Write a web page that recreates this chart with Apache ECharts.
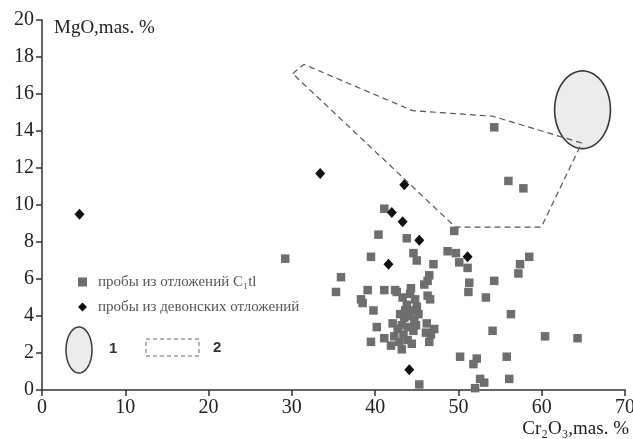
<!DOCTYPE html>
<html>
<head>
<meta charset="utf-8">
<script src="https://cdn.jsdelivr.net/npm/echarts@6/dist/echarts.min.js"></script>
<style>
html, body { margin: 0; padding: 0; background: #fff; }
#chart { width: 633px; height: 439px; }
</style>
</head>
<body>
<div id="chart"></div>
<script>
// пробы из отложений C1tl  [Cr2O3, MgO]
const c1tlSamples = [
  [54.3, 14.2], [56.0, 11.3], [57.8, 10.9], [41.1, 9.8], [29.2, 7.1], [40.4, 8.4],
  [43.8, 8.2], [49.5, 8.6], [44.6, 7.4], [45.0, 7.0], [39.5, 7.2], [47.0, 6.8],
  [48.7, 7.5], [49.7, 7.4], [50.1, 6.9], [51.1, 6.6], [35.9, 6.1], [35.3, 5.3],
  [46.5, 6.2], [46.3, 5.9], [45.9, 5.7], [51.3, 5.8], [51.2, 5.3], [54.3, 5.9],
  [57.4, 6.8], [58.5, 7.2], [57.2, 6.3], [39.1, 5.4], [41.1, 5.4], [42.4, 5.4],
  [38.3, 4.9], [38.5, 4.7], [39.8, 4.3], [40.2, 3.4], [39.5, 2.6], [41.1, 2.8],
  [41.9, 2.4], [53.3, 5.0], [56.3, 4.1], [54.1, 3.2], [60.4, 2.9], [64.3, 2.8],
  [50.2, 1.8], [52.2, 1.7], [51.8, 1.4], [55.8, 1.8], [52.6, 0.6], [53.1, 0.4],
  [56.1, 0.6], [52.0, 0.1], [45.3, 0.3], [46.2, 3.6], [47.1, 3.3], [46.1, 3.1],
  [46.7, 3.0], [46.5, 2.6], [46.3, 5.1], [46.6, 4.9],
  [42.6, 5.3], [43.3, 5.0], [44.2, 5.2], [44.8, 4.9], [45.0, 4.5], [44.5, 4.3],
  [43.8, 4.6], [44.1, 4.0], [44.7, 3.8], [43.5, 3.9], [43.2, 3.5], [44.0, 3.4],
  [44.6, 3.2], [42.7, 3.3], [43.4, 3.0], [42.3, 2.9], [43.9, 2.7], [42.9, 2.6],
  [44.4, 2.5], [43.2, 2.2], [42.1, 3.6], [43.6, 4.3], [45.2, 4.1], [44.9, 3.5],
  [43.0, 4.1], [44.3, 5.5]
];

// пробы из девонских отложений
const devonianSamples = [
  [4.5, 9.5], [33.4, 11.7], [43.5, 11.1], [42.0, 9.6], [43.3, 9.1],
  [45.3, 8.1], [41.6, 6.8], [51.1, 7.2], [44.1, 1.1]
];

// field 2 (dashed outline)
const field2 = [
  [30.1, 17.1], [31.45, 17.6], [44.5, 15.1], [54.1, 14.8], [64.8, 13.35],
  [59.95, 8.8], [49.65, 8.8], [30.1, 17.1]
];

// field 1 (ellipse): centre x, centre y, radius x, radius y
const field1 = [[64.9, 15.15, 3.35, 2.1]];

const nameC1 = 'пробы из отложений C₁tl';
const nameDev = 'пробы из девонских отложений';

function ellipsePts(cx, cy, rx, ry) {
  const pts = [];
  for (let i = 0; i < 72; i++) {
    const a = (i / 72) * Math.PI * 2;
    pts.push([cx + rx * Math.cos(a), cy + ry * Math.sin(a)]);
  }
  return pts;
}

const serif = 'Liberation Serif';
const axisCommon = {
  axisLine: { lineStyle: { color: '#333', width: 1.5 } },
  axisTick: { length: 6, lineStyle: { color: '#333', width: 1.5 } },
  splitLine: { show: false },
  axisLabel: { fontFamily: serif, fontSize: 20, color: '#222' }
};

const chart = echarts.init(document.getElementById('chart'));
chart.setOption({
  animation: false,
  grid: { left: 42, right: 8, top: 20, bottom: 49, outerBoundsMode: 'none' },
  xAxis: {
    ...axisCommon,
    type: 'value', min: 0, max: 70, interval: 10,
    axisLabel: { ...axisCommon.axisLabel, margin: 8 },
    name: 'Cr₂O₃,mas. %',
    nameLocation: 'end',
    nameGap: 4,
    nameTextStyle: {
      fontFamily: serif, fontSize: 19, color: '#222',
      align: 'right', verticalAlign: 'top', padding: [30, 0, 0, 0]
    }
  },
  yAxis: {
    ...axisCommon,
    type: 'value', min: 0, max: 20, interval: 2,
    axisLabel: { ...axisCommon.axisLabel, margin: 8 },
    name: 'MgO,mas. %',
    nameLocation: 'end',
    nameGap: -8,
    nameTextStyle: {
      fontFamily: serif, fontSize: 19, color: '#222',
      align: 'left', verticalAlign: 'middle', padding: [0, 0, 0, 12]
    }
  },
  legend: {
    orient: 'vertical',
    left: 73,
    top: 269,
    itemWidth: 9,
    itemHeight: 9,
    itemGap: 9,
    selectedMode: false,
    textStyle: { fontFamily: serif, fontSize: 15, color: '#555', lineHeight: 16, padding: [0, 0, 0, 6] },
    data: [nameC1, nameDev]
  },
  graphic: [
    {
      type: 'polygon',
      shape: { points: ellipsePts(79, 350, 13, 23) },
      style: { fill: '#ececec', stroke: '#3a3a3a', lineWidth: 1.5 }
    },
    {
      type: 'text', left: 109, top: 341,
      style: { text: '1', font: 'bold 15px "Liberation Sans"', fill: '#333' }
    },
    {
      type: 'rect',
      shape: { x: 146, y: 339, width: 53, height: 17 },
      style: { fill: null, stroke: '#666', lineWidth: 1, lineDash: [4, 3] }
    },
    {
      type: 'text', left: 213, top: 340,
      style: { text: '2', font: 'bold 15px "Liberation Sans"', fill: '#333' }
    }
  ],
  series: [
    {
      type: 'custom',
      name: 'field1',
      z: 1,
      data: field1,
      renderItem: function (params, api) {
        const c = api.coord([api.value(0), api.value(1)]);
        const s = api.size([api.value(2), api.value(3)]);
        return {
          type: 'polygon',
          shape: { points: ellipsePts(c[0], c[1], s[0], s[1]) },
          style: { fill: '#ececec', stroke: '#3a3a3a', lineWidth: 1.6 }
        };
      }
    },
    {
      type: 'line',
      name: 'field2',
      z: 2,
      data: field2,
      symbol: 'none',
      lineStyle: { color: '#555', width: 1.2, type: [6, 4] }
    },
    {
      type: 'scatter',
      name: nameC1,
      z: 3,
      data: c1tlSamples,
      symbol: 'rect',
      symbolSize: 8.5,
      itemStyle: { color: '#6e6e6e', opacity: 1 }
    },
    {
      type: 'scatter',
      name: nameDev,
      z: 4,
      data: devonianSamples,
      symbol: 'diamond',
      symbolSize: [10, 11],
      itemStyle: { color: '#111', opacity: 1 }
    }
  ]
});
</script>
</body>
</html>
